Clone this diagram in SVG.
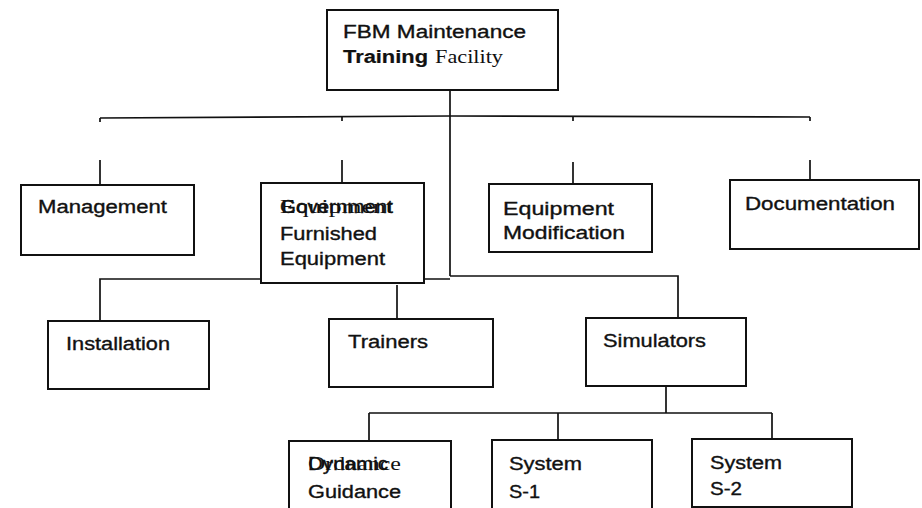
<svg xmlns="http://www.w3.org/2000/svg" width="922" height="508" viewBox="0 0 922 508">
<style>
.box{fill:#fff;stroke:#111;stroke-width:2}
.ln{fill:none;stroke:#111;stroke-width:1.7}
.t{font-family:"Liberation Sans",Arial,sans-serif;font-size:18px;fill:#111;stroke:#111;stroke-width:0.35}
.s{font-family:"Liberation Serif","Times New Roman",serif;font-size:18px;fill:#111}
.b{font-weight:bold;stroke-width:0.2}
</style>
<rect width="922" height="508" fill="#fff"/>
<g id="connectors">
<path class="ln" d="M450 90V276"/>
<path class="ln" d="M100 118L450 116L810 117"/>
<path class="ln" d="M100 118V122M342 117V121M573 117V121M810 117V121"/>
<path class="ln" d="M100 160V185M342 160V183M573 162V184M810 160V180"/>
<path class="ln" d="M100 320V279H450M450 276H678V318"/>
<path class="ln" d="M397 285V319"/>
<path class="ln" d="M666 386V413M369 413H772M369 413V441M558 413V440M772 413V439"/>
</g>
<g id="top">
<rect class="box" x="327" y="10" width="231" height="80"/>
<text class="t" x="343" y="38" textLength="183" lengthAdjust="spacingAndGlyphs">FBM Maintenance</text>
<text class="t b" x="343" y="63" textLength="85" lengthAdjust="spacingAndGlyphs">Training</text>
<text class="s" x="435" y="63" textLength="68" lengthAdjust="spacingAndGlyphs">Facility</text>
</g>
<g id="management">
<rect class="box" x="21" y="185" width="173" height="70"/>
<text class="t" x="38" y="213" textLength="129" lengthAdjust="spacingAndGlyphs">Management</text>
</g>
<g id="gfe">
<rect class="box" x="261" y="183" width="163" height="100"/>
<text class="s" x="280" y="213" textLength="113" lengthAdjust="spacingAndGlyphs">Equipment</text>
<text class="t" x="280" y="213" textLength="113" lengthAdjust="spacingAndGlyphs">Government</text>
<text class="t" x="280" y="240" textLength="97" lengthAdjust="spacingAndGlyphs">Furnished</text>
<text class="t" x="280" y="265" textLength="105" lengthAdjust="spacingAndGlyphs">Equipment</text>
</g>
<g id="equipmod">
<rect class="box" x="489" y="184" width="163" height="68"/>
<text class="t" x="503" y="215" textLength="111" lengthAdjust="spacingAndGlyphs">Equipment</text>
<text class="t" x="503" y="239" textLength="122" lengthAdjust="spacingAndGlyphs">Modification</text>
</g>
<g id="documentation">
<rect class="box" x="730" y="180" width="189" height="69"/>
<text class="t" x="745" y="210" textLength="150" lengthAdjust="spacingAndGlyphs">Documentation</text>
</g>
<g id="installation">
<rect class="box" x="48" y="321" width="161" height="68"/>
<text class="t" x="66" y="350" textLength="104" lengthAdjust="spacingAndGlyphs">Installation</text>
</g>
<g id="trainers">
<rect class="box" x="329" y="319" width="164" height="68"/>
<text class="t" x="348" y="348" textLength="80" lengthAdjust="spacingAndGlyphs">Trainers</text>
</g>
<g id="simulators">
<rect class="box" x="586" y="318" width="160" height="68"/>
<text class="t" x="603" y="347" textLength="103" lengthAdjust="spacingAndGlyphs">Simulators</text>
</g>
<g id="dynamic">
<rect class="box" x="289" y="441" width="162" height="70"/>
<text class="s" x="308" y="470" textLength="93" lengthAdjust="spacingAndGlyphs">Ordnance</text>
<text class="t" x="308" y="470" textLength="80" lengthAdjust="spacingAndGlyphs">Dynamic</text>
<text class="t" x="308" y="498" textLength="93" lengthAdjust="spacingAndGlyphs">Guidance</text>
</g>
<g id="s1">
<rect class="box" x="492" y="440" width="160" height="71"/>
<text class="t" x="509" y="470" textLength="73" lengthAdjust="spacingAndGlyphs">System</text>
<text class="t" x="509" y="498" textLength="31" lengthAdjust="spacingAndGlyphs">S-1</text>
</g>
<g id="s2">
<rect class="box" x="692" y="439" width="160" height="68"/>
<text class="t" x="710" y="469" textLength="72" lengthAdjust="spacingAndGlyphs">System</text>
<text class="t" x="710" y="495" textLength="32" lengthAdjust="spacingAndGlyphs">S-2</text>
</g>
</svg>
